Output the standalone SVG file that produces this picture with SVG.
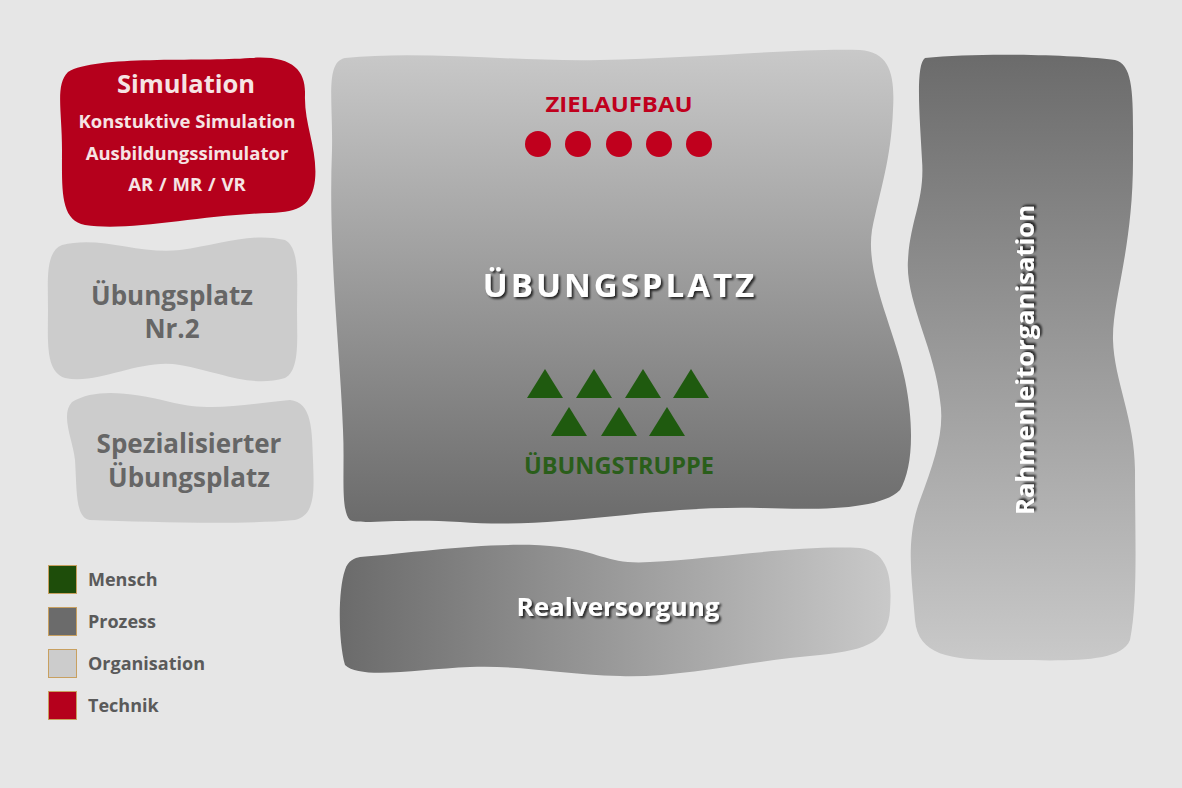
<svg xmlns="http://www.w3.org/2000/svg" width="1182" height="788" viewBox="0 0 1182 788">
<defs>
<linearGradient id="gDown" x1="0" y1="0" x2="0" y2="1"><stop offset="0" stop-color="#c9c9c9"/><stop offset="1" stop-color="#6b6b6b"/></linearGradient>
<linearGradient id="gUp" x1="0" y1="0" x2="0" y2="1"><stop offset="0" stop-color="#6b6b6b"/><stop offset="1" stop-color="#c9c9c9"/></linearGradient>
<linearGradient id="gRight" x1="0" y1="0" x2="1" y2="0"><stop offset="0" stop-color="#6b6b6b"/><stop offset="1" stop-color="#c9c9c9"/></linearGradient>
<filter id="sh" x="-10%" y="-30%" width="120%" height="160%"><feDropShadow dx="2" dy="2" stdDeviation="1" flood-color="#000" flood-opacity="0.75"/></filter>
</defs>
<style>
text{font-family:"Open Sans","Noto Sans","Liberation Sans",sans-serif;font-weight:700;text-anchor:middle}
.sim{fill:#f6e4e4}
.org{fill:#666666;font-size:26px}
.wt{fill:#ffffff}
.leg{fill:#5a5a5a;font-size:18px;text-anchor:start}
.sq{stroke:#c8a060;stroke-width:1}
</style>
<rect width="1182" height="788" fill="#e6e6e6"/>

<g id="simulation">
<path fill="#b5001c" d="M 68,72 C 95,55 200,62 250,58 C 292,55 306,70 305,95 C 304,125 318,150 315,180 C 312,205 300,212 270,213 C 200,215 130,232 85,225 C 60,220 62,190 62,150 C 62,110 55,85 68,72 Z"/>
<text class="sim" x="186" y="93" font-size="25.5">Simulation</text>
<text class="sim" x="187" y="128" font-size="18.5">Konstuktive Simulation</text>
<text class="sim" x="187" y="160" font-size="18.5">Ausbildungssimulator</text>
<text class="sim" x="187" y="191" font-size="18.5" word-spacing="1">AR / MR / VR</text>
</g>

<g id="uebungsplatz-nr2">
<path fill="#cccccc" d="M 62,245 C 100,235 140,255 180,250 C 220,245 250,232 285,240 C 300,248 297,280 297,310 C 297,340 300,370 285,378 C 250,388 220,372 180,365 C 140,358 100,385 65,378 C 45,372 48,340 48,310 C 48,280 45,252 62,245 Z"/>
<text class="org" x="172" y="305" font-size="26.5">Übungsplatz</text>
<text class="org" x="172" y="338" font-size="26.5">Nr.2</text>
</g>

<g id="spezialisierter-uebungsplatz">
<path fill="#cccccc" d="M 72,402 C 95,388 130,392 170,402 C 210,412 240,405 290,400 C 312,402 312,430 313,460 C 314,490 316,515 295,520 C 240,525 150,522 90,520 C 75,518 77,490 75,460 C 73,440 60,415 72,402 Z"/>
<text class="org" x="189" y="453">Spezialisierter</text>
<text class="org" x="189" y="487">Übungsplatz</text>
</g>

<g id="uebungsplatz">
<path fill="url(#gDown)" d="M 345,58 C 420,50 520,62 600,60 C 700,58 800,48 860,50 C 890,52 895,75 893,110 C 891,160 880,190 872,230 C 865,275 895,330 905,380 C 915,430 912,470 900,490 C 880,510 820,510 760,508 C 650,505 560,530 460,522 C 400,518 360,525 350,520 C 340,510 345,470 343,430 C 340,350 328,250 332,150 C 333,100 325,62 345,58 Z"/>
<text x="619" y="112" font-size="22" fill="#c0001d" textLength="147" lengthAdjust="spacingAndGlyphs">ZIELAUFBAU</text>
<g fill="#c0001d">
<circle cx="538" cy="144" r="13"/><circle cx="578" cy="144" r="13"/><circle cx="619" cy="144" r="13"/><circle cx="659" cy="144" r="13"/><circle cx="699" cy="144" r="13"/>
</g>
<text class="wt" x="620" y="297" font-size="33" letter-spacing="3" filter="url(#sh)">ÜBUNGSPLATZ</text>
<g fill="#1f5a0f">
<polygon points="545,369 527,398 563,398"/><polygon points="594,369 576,398 612,398"/><polygon points="643,369 625,398 661,398"/><polygon points="691,369 673,398 709,398"/>
<polygon points="569,407 551,436 587,436"/><polygon points="619,407 601,436 637,436"/><polygon points="667,407 649,436 685,436"/>
</g>
<text x="619" y="474" font-size="23" fill="#2a5e1a" textLength="190" lengthAdjust="spacingAndGlyphs">ÜBUNGSTRUPPE</text>
</g>

<g id="rahmenleitorganisation">
<path fill="url(#gUp)" d="M 925,58 C 980,52 1080,55 1115,60 C 1135,65 1133,100 1133,160 C 1133,250 1112,300 1113,340 C 1114,380 1135,420 1135,470 C 1135,540 1138,600 1130,640 C 1120,665 1060,660 1000,660 C 950,660 918,655 915,620 C 912,580 905,540 920,500 C 935,460 945,430 940,400 C 935,350 905,300 908,260 C 910,220 925,200 922,160 C 920,120 915,65 925,58 Z"/>
<text class="wt" x="0" y="0" font-size="25" filter="url(#sh)" transform="translate(1034,360) rotate(-90)" textLength="310" lengthAdjust="spacingAndGlyphs">Rahmenleitorganisation</text>
</g>

<g id="realversorgung">
<path fill="url(#gRight)" d="M 360,557 C 420,552 500,540 560,547 C 600,552 610,565 650,562 C 720,558 800,545 860,548 C 890,552 892,580 890,610 C 888,640 870,650 820,655 C 740,662 680,678 620,676 C 560,674 520,665 470,667 C 420,669 360,680 345,665 C 338,640 338,590 345,570 C 348,560 355,558 360,557 Z"/>
<text class="wt" x="618" y="616" font-size="25" filter="url(#sh)" textLength="203" lengthAdjust="spacingAndGlyphs">Realversorgung</text>
</g>

<g id="legend">
<rect class="sq" x="48.5" y="565.5" width="28" height="28" fill="#1e4d0a"/>
<text class="leg" x="88" y="586">Mensch</text>
<rect class="sq" x="48.5" y="607.5" width="28" height="28" fill="#6b6b6b"/>
<text class="leg" x="88" y="628">Prozess</text>
<rect class="sq" x="48.5" y="649.5" width="28" height="28" fill="#cccccc"/>
<text class="leg" x="88" y="670">Organisation</text>
<rect class="sq" x="48.5" y="691.5" width="28" height="28" fill="#b5001c"/>
<text class="leg" x="88" y="712">Technik</text>
</g>

<g id="connectors"></g>
</svg>
